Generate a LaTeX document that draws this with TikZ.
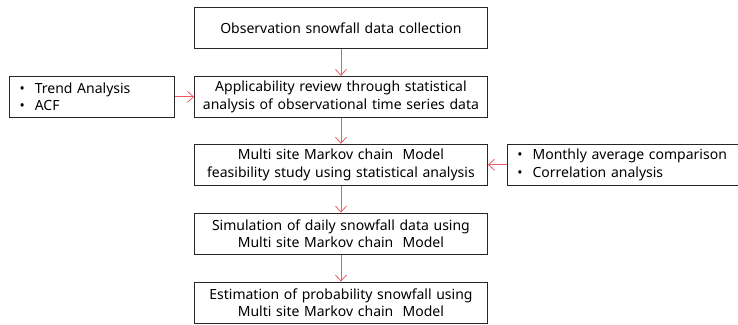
\documentclass[tikz,border=0pt]{standalone}
\usepackage{fontspec}
\setmainfont{Noto Sans}
\usepackage{tikz}
\usetikzlibrary{positioning}
\usetikzlibrary{arrows.meta}
\definecolor{arrowred}{RGB}{236,90,100}
\tikzset{
  myarrow/.style={
    draw=arrowred,
    line width=0.8pt,
    -{Straight Barb[length=6pt,width=11pt]},
  },
  myrectangle/.style={
    draw=black!85,
    shape=rectangle,
    line width=0.9pt,
    align=center,
    inner sep=0pt,
    text width=293pt,
    minimum width=293pt,
    minimum height=41pt,
    font=\fontsize{14}{17.5}\selectfont
  },
  mylist/.style={
    draw=black!85,
    shape=rectangle,
    line width=0.9pt,
    align=left,
    inner xsep=10pt,
    inner ysep=0pt,
    minimum height=41pt,
    font=\fontsize{14}{17.5}\selectfont
  },
}
\newcommand{\bul}{\textbullet\hspace{10pt}}

\begin{document}
\begin{tikzpicture}[auto]
    \useasboundingbox (0pt,0pt) rectangle (738pt,-324pt);

    \node[myrectangle, anchor=north west] (collection) at (194pt,-7pt) {Observation snowfall data collection};
    \node[myrectangle] (applicability) [below=27pt of collection] {Applicability review through statistical\\analysis of observational time series data};
    \node[myrectangle] (feasibility) [below=26pt of applicability] {Multi site Markov chain~ Model\\feasibility study using statistical analysis};
    \node[myrectangle] (simulation) [below=27pt of feasibility] {Simulation of daily snowfall data using\\Multi site Markov chain~ Model};
    \node[myrectangle] (estimation) [below=27pt of simulation] {Estimation of probability snowfall using\\Multi site Markov chain~ Model};

    \node[mylist, text width=145pt] (trend) [left=19pt of applicability] {\bul Trend Analysis\\\bul ACF};
    \node[mylist, text width=222pt] (monthly) [right=19pt of feasibility] {\bul Monthly average comparison\\\bul Correlation analysis};

    \draw[myarrow] (collection) -- (applicability);
    \draw[myarrow] (applicability) -- (feasibility);
    \draw[myarrow] (feasibility) -- (simulation);
    \draw[myarrow] (simulation) -- (estimation);

    \draw[myarrow] (trend) -- (applicability);
    \draw[myarrow] (monthly) -- (feasibility);
  \end{tikzpicture}
\end{document}
